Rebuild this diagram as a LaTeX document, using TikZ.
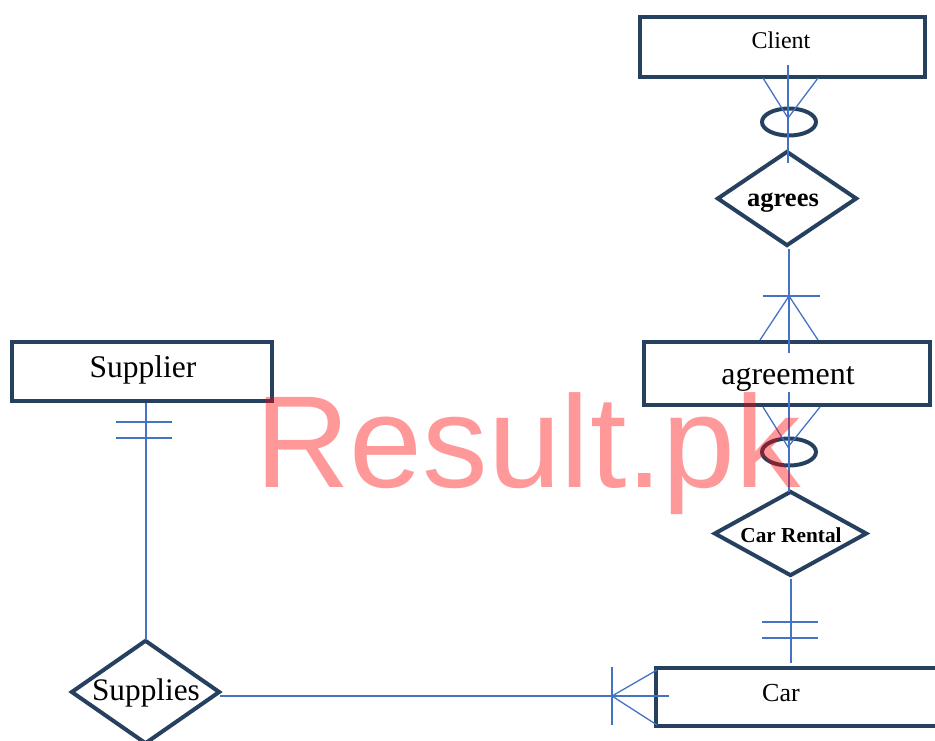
\documentclass[tikz,border=0pt]{standalone}
\usepackage{fontspec}
\setmainfont{Liberation Serif}
\newfontfamily\wmfont{Liberation Sans}
\usetikzlibrary{shapes.geometric}
\definecolor{navy}{RGB}{38,64,96}
\definecolor{conn}{RGB}{68,114,196}
\tikzset{
  entity/.style={draw=navy, line width=4pt, rectangle, inner sep=0pt, fill=white},
  relation/.style={draw=navy, line width=4pt, diamond, inner sep=0pt, fill=white},
  optring/.style={draw=navy, line width=4pt, ellipse, inner sep=0pt, minimum width=54pt, minimum height=27pt},
  link/.style={draw=conn, line width=1.3pt},
  lbl/.style={inner sep=0pt, text=black}
}
\begin{document}
\begin{tikzpicture}[x=1pt,y=-1pt]
\useasboundingbox (0,0) rectangle (935,740);
% entities
\node[entity, minimum width=285pt, minimum height=60pt] (client) at (782.5,47) {};
\node[entity, minimum width=286pt, minimum height=63pt] (agreement) at (787,373.5) {};
\node[entity, minimum width=260pt, minimum height=59pt] (supplier) at (142,371.5) {};
\node[entity, minimum width=294pt, minimum height=58pt] (car) at (803,697) {};
% relations
\node[relation, aspect=1.5, minimum width=140pt, minimum height=95pt] (agrees) at (787,198.5) {};
\node[relation, aspect=1.7, minimum width=153pt, minimum height=85pt] (carrental) at (790.5,533.5) {};
\node[relation, aspect=1.5, minimum width=149pt, minimum height=104pt] (supplies) at (145.5,692) {};
% labels
\node[lbl, font=\fontsize{24}{28}\selectfont] (tclient) at (781,40) {Client};
\node[lbl, font=\fontsize{32}{36}\selectfont] (tagreement) at (788,379) {agreement};
\node[lbl, font=\fontsize{31.5}{36}\selectfont] (tsupplier) at (143,370) {Supplier};
\node[lbl, font=\fontsize{26}{30}\selectfont] (tcar) at (781,693) {Car};
\node[lbl, font=\fontsize{26.5}{30}\selectfont\bfseries] (tagrees) at (783,203) {agrees};
\node[lbl, font=\fontsize{21.3}{25}\selectfont\bfseries] (tcarrental) at (791,535) {Car Rental};
\node[lbl, font=\fontsize{31.3}{36}\selectfont] (tsupplies) at (146,693) {Supplies};
% coordinates for connector ends
\coordinate (c1top) at (788,65);
\coordinate (c1tip) at (788,118);
\coordinate (c1l) at (763,78);
\coordinate (c1r) at (818,78);
\coordinate (c1bot) at (788,163);
\coordinate (a2top) at (789,249);
\coordinate (a2tip) at (789,296);
\coordinate (a2bl) at (763,296);
\coordinate (a2br) at (820,296);
\coordinate (a2l) at (760,340);
\coordinate (a2r) at (818,340);
\coordinate (a2bot) at (789,353);
\coordinate (a3top) at (789,392);
\coordinate (a3tip) at (788,447);
\coordinate (a3l) at (763,407);
\coordinate (a3r) at (820,407);
\coordinate (a3bot) at (789,492);
\coordinate (r1top) at (791,579);
\coordinate (r1bot) at (791,663);
\coordinate (s1top) at (146,403);
\coordinate (s1bot) at (146,640);
\coordinate (h1l) at (220,696);
\coordinate (h1r) at (669,696);
\coordinate (h1tip) at (612,696);
\coordinate (h1u) at (657,670);
\coordinate (h1d) at (657,725);
% rings
\node[optring] (ring1) at (789,122) {};
\node[optring] (ring2) at (789,452) {};
% connectors
\draw[link] (c1top) -- (c1bot);
\draw[link] (c1l) -- (c1tip) -- (c1r);
\draw[link] (a2top) -- (a2bot);
\draw[link] (a2bl) -- (a2br);
\draw[link] (a2l) -- (a2tip) -- (a2r);
\draw[link] (a3top) -- (a3bot);
\draw[link] (a3l) -- (a3tip) -- (a3r);
\draw[link] (r1top) -- (r1bot);
\draw[link] (762,622) -- (818,622);
\draw[link] (762,638) -- (818,638);
\draw[link] (s1top) -- (s1bot);
\draw[link] (116,422) -- (172,422);
\draw[link] (116,438) -- (172,438);
\draw[link] (h1l) -- (h1r);
\draw[link] (612,667) -- (612,725);
\draw[link] (h1u) -- (h1tip) -- (h1d);
% watermark
\node[anchor=base west, inner sep=0pt, text=red, text opacity=0.4, font=\wmfont\fontsize{131}{140}\selectfont] (wm) at (255,487) {Result.pk};
\end{tikzpicture}
\end{document}
